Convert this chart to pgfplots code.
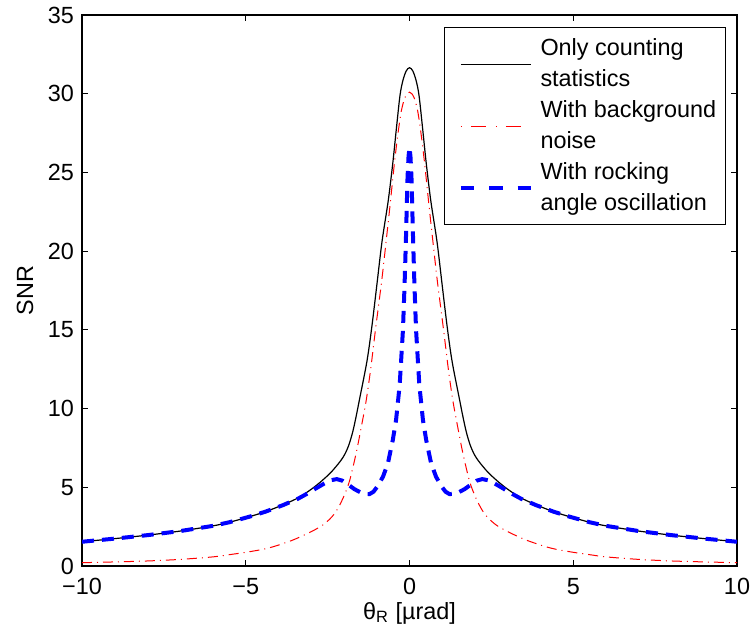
\documentclass[border=0pt]{standalone}
\usepackage{fontspec}
\setmainfont{Liberation Sans}
\usepackage{pgfplots}
\pgfplotsset{compat=1.18}
\begin{document}
\fontsize{11.7}{15.75}\selectfont
\begin{tikzpicture}
\begin{axis}[
  scale only axis, width=327.5pt, height=275.5pt,
  xmin=-10, xmax=10, ymin=0, ymax=35,
  xtick={-10,-5,0,5,10}, xticklabels={−10,−5,0,5,10},
  ytick={0,5,10,15,20,25,30,35}, yticklabels={0,5,10,15,20,25,30,35},
  major tick length=3pt,
  axis line style={line width=0.6pt},
  every tick/.append style={black, line width=0.6pt},
  tick label style={font=\fontsize{11.7}{14}\selectfont},
  xticklabel style={yshift=-2pt},
  label style={font=\fontsize{11.7}{14}\selectfont},
  xlabel={θ\textsubscript{R} [µrad]},
  ylabel={SNR},
  xlabel style={at={([yshift=-23.5pt]axis description cs:0.5,0)}, anchor=center},
  ylabel style={at={([xshift=-28.5pt]axis description cs:0,0.5)}, anchor=center},
  legend style={at={(rel axis cs:1,1)}, anchor=north east, xshift=-5.5pt, yshift=-6pt,
    draw=black, line width=0.6pt, fill=white,
    inner xsep=2.65pt, inner ysep=3.3pt, row sep=1.0pt, column sep=1.8pt,
    nodes={inner sep=2pt}, align=left,
    font=\fontsize{11.7}{15.75}\selectfont},
  legend cell align=left,
  legend image code/.code={\path (0pt,0pt); \draw[#1] (4.55pt,0pt) -- (39.55pt,0pt);},
]
% black: only counting statistics
\addplot[black, line width=0.6pt, smooth, tension=0.5, forget plot] coordinates {
(-10,1.54) (-9,1.74) (-8,1.96) (-7,2.22) (-6,2.55) (-5.5,2.78) (-4.89,3.13) (-4.4,3.45)
(-3.87,3.88) (-3.4,4.33) (-3.05,4.8) (-2.75,5.28) (-2.44,5.86) (-2.25,6.3) (-2.09,6.72)
(-1.97,7.12) (-1.85,7.7) (-1.73,8.55) (-1.62,9.6) (-1.53,10.55) (-1.3,13.0) (-1.15,15.2)
(-1.0,17.8) (-0.84,20.6) (-0.65,23.2) (-0.51,25.6) (-0.4,27.8) (-0.29,29.9) (-0.2,30.85)
(-0.1,31.45) (0,31.65)
(0.1,31.45) (0.2,30.85) (0.29,29.9) (0.4,27.8) (0.51,25.6) (0.65,23.2) (0.84,20.6)
(1.0,17.8) (1.15,15.2) (1.3,13.0) (1.53,10.55) (1.62,9.6) (1.73,8.55) (1.85,7.7) (1.97,7.12)
(2.09,6.72) (2.25,6.3) (2.44,5.86) (2.75,5.28) (3.05,4.8) (3.4,4.33) (3.87,3.88) (4.4,3.45)
(4.89,3.13) (5.5,2.78) (6,2.55) (7,2.22) (8,1.96) (9,1.74) (10,1.54)
};
% red: with background noise
\addplot[red, line width=0.5pt, smooth, tension=0.5, dash pattern=on 5pt off 2.5pt on 0.5pt off 2.5pt, forget plot] coordinates {
(-10,0.21) (-9,0.26) (-8,0.32) (-7,0.42) (-6,0.58) (-5.5,0.72) (-5,0.87) (-4.5,1.05)
(-4.17,1.22) (-3.9,1.4) (-3.56,1.65) (-3.2,1.98) (-2.9,2.29) (-2.65,2.6) (-2.44,2.97) (-2.3,3.3)
(-2.17,3.72) (-2.0,4.45) (-1.83,5.41) (-1.63,7.16) (-1.47,8.85) (-1.32,10.55) (-1.18,12.6)
(-1.04,15.0) (-0.85,18.1) (-0.71,20.7) (-0.6,22.8) (-0.46,25.6) (-0.35,27.5) (-0.25,28.9)
(-0.15,29.7) (-0.07,30.0) (0,30.1)
(0.07,30.0) (0.15,29.7) (0.25,28.9) (0.35,27.5) (0.46,25.6) (0.6,22.8) (0.71,20.7)
(0.85,18.1) (1.04,15.0) (1.18,12.6) (1.32,10.55) (1.47,8.85) (1.63,7.16) (1.83,5.41)
(2.0,4.45) (2.17,3.72) (2.3,3.3) (2.44,2.97) (2.65,2.6) (2.9,2.29) (3.2,1.98) (3.56,1.65)
(3.9,1.4) (4.17,1.22) (4.5,1.05) (5,0.87) (5.5,0.72) (6,0.58) (7,0.42) (8,0.32) (9,0.26) (10,0.21)
};
% blue: with rocking angle oscillation
\addplot[blue, line width=2pt, dash pattern=on 6pt off 4pt, forget plot] coordinates {
(-10,1.54) (-9,1.74) (-8,1.96) (-7,2.22) (-6,2.55) (-5.5,2.78) (-4.89,3.13) (-4.4,3.45)
(-3.87,3.86) (-3.4,4.28) (-3.05,4.68) (-2.85,4.94) (-2.6,5.24) (-2.4,5.45) (-2.22,5.52)
(-2.05,5.42) (-1.88,5.18) (-1.68,4.88) (-1.5,4.68) (-1.35,4.58) (-1.22,4.57) (-1.1,4.72)
(-0.98,5.05) (-0.81,5.67) (-0.66,6.52) (-0.51,8.0) (-0.41,9.28) (-0.3,11.5) (-0.24,13.6)
(-0.2,15.0) (-0.15,17.9) (-0.11,20.7) (-0.06,24.7) (-0.03,26.0) (0,26.6)
(0.03,26.0) (0.06,24.7) (0.11,20.7) (0.15,17.9) (0.2,15.0) (0.24,13.6) (0.3,11.5)
(0.41,9.28) (0.51,8.0) (0.66,6.52) (0.81,5.67) (0.98,5.05) (1.1,4.72) (1.22,4.57)
(1.35,4.58) (1.5,4.68) (1.68,4.88) (1.88,5.18) (2.05,5.42) (2.22,5.52) (2.4,5.45)
(2.6,5.24) (2.85,4.94) (3.05,4.68) (3.4,4.28) (3.87,3.86) (4.4,3.45) (4.89,3.13)
(5.5,2.78) (6,2.55) (7,2.22) (8,1.96) (9,1.74) (10,1.54)
};
\addlegendimage{black, line width=0.6pt}
\addlegendentry{Only counting\\statistics}
\addlegendimage{red, line width=0.5pt, dash pattern=on 0.5pt off 4.5pt on 7.5pt off 5pt}
\addlegendentry{With background\\noise}
\addlegendimage{blue, line width=2pt, dash pattern=on 6.65pt off 7.5pt}
\addlegendentry{With rocking\\angle oscillation}
\end{axis}
\pgfresetboundingbox
\useasboundingbox ([shift={(-41pt,-33pt)}]current axis.south west) rectangle ([shift={(8pt,7.5pt)}]current axis.north east);
\end{tikzpicture}
\end{document}
